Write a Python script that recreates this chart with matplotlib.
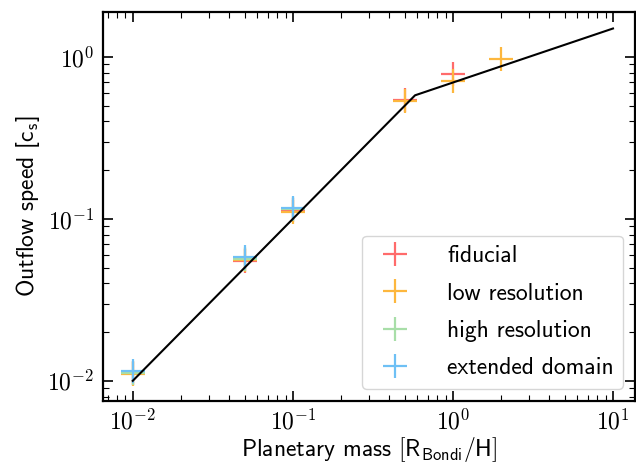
import matplotlib
matplotlib.use('Agg')
import matplotlib.pyplot as plt
from matplotlib.ticker import FuncFormatter
import numpy as np

plt.rcParams['font.family'] = ['cmss10', 'DejaVu Sans']
plt.rcParams['mathtext.fontset'] = 'cm'
plt.rcParams['axes.unicode_minus'] = False

# simulation outflow speeds per run set
fid_mass = [0.01, 0.05, 0.1, 0.5, 1.0]
fid_speed = [0.0111, 0.0551, 0.114, 0.54, 0.79]

low_mass = [0.01, 0.05, 0.1, 0.5, 1.0, 2.0]
low_speed = [0.0110, 0.0560, 0.110, 0.535, 0.71, 0.97]

high_mass = [0.01, 0.05, 0.1]
high_speed = [0.01125, 0.0568, 0.1155]

ext_mass = [0.01, 0.05, 0.1]
ext_speed = [0.01153, 0.0585, 0.117]

# broken power law fit
fit_mass = [0.01, 0.58, 10.0]
fit_speed = [0.01, 0.58, 1.5]

series = [
    (fid_mass, fid_speed, '#ff6b6b', 'fiducial'),
    (low_mass, low_speed, '#fdb73e', 'low resolution'),
    (high_mass, high_speed, '#a8dea8', 'high resolution'),
    (ext_mass, ext_speed, '#6ec0f5', 'extended domain'),
]


def pow_label(v, pos):
    e = int(round(np.log10(v)))
    if e < 0:
        return r'$\mathsf{10}^{-\mathsf{%d}}$' % -e
    return r'$\mathsf{10}^{\mathsf{%d}}$' % e


fig = plt.figure(figsize=(6.36, 4.66), dpi=100)
ax = fig.add_axes([102.5 / 636, 1 - 400.5 / 466, (635 - 102.5) / 636, (400.5 - 12) / 466])

for m, v, c, lab in series:
    ax.plot(m, v, linestyle='none', marker='+', ms=17, mew=1.6, color=c, label=lab)
ax.plot(fit_mass, fit_speed, color='black', lw=1.5)

ax.set_xscale('log')
ax.set_yscale('log')
ax.set_xlim(10 ** -2.189, 10 ** 1.1375)
ax.set_ylim(10 ** -2.1216, 10 ** 0.278)
ax.xaxis.set_major_formatter(FuncFormatter(pow_label))
ax.yaxis.set_major_formatter(FuncFormatter(pow_label))

ax.tick_params(which='both', direction='in', top=True, right=True, labelsize=17)
ax.tick_params(which='major', length=7, width=1.2, pad=6)
ax.tick_params(which='minor', length=4, width=0.8)
for s in ax.spines.values():
    s.set_linewidth(1.6)

ax.set_xlabel(r'Planetary mass $\left[\mathsf{R_{Bondi}/H}\right]$', fontsize=17, labelpad=1)
ax.set_ylabel(r'Outflow speed [$\mathsf{c_s}$]', fontsize=17, labelpad=4)

ax.legend(loc='lower right', fontsize=17, handletextpad=1.2, labelspacing=0.65,
          borderpad=0.4, handlelength=2.0, fancybox=True, edgecolor='#cccccc',
          framealpha=0.8, borderaxespad=0.5)

fig.savefig('out.png', dpi=100)
